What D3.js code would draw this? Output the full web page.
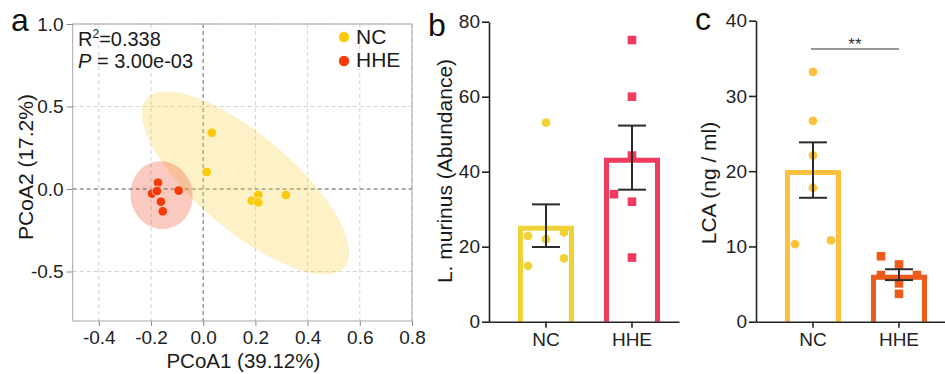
<!DOCTYPE html>
<html><head><meta charset="utf-8">
<script src="https://cdn.jsdelivr.net/npm/d3@7"></script>
<style>
body{margin:0;background:#fff}
text{font-family:"Liberation Sans",Arial,Helvetica,sans-serif}
</style>
</head><body>
<svg id="chart" width="945" height="374"></svg>
<script>
// ---------------- DATA ----------------
// Panel a: PCoA
const pcoaGroups = ["NC", "HHE"];
const ncPC1  = [0.033, 0.013, 0.186, 0.211, 0.211, 0.317];
const ncPC2  = [0.341, 0.103, -0.071, -0.036, -0.081, -0.036];
const hhePC1 = [-0.173, -0.196, -0.177, -0.094, -0.162, -0.155];
const hhePC2 = [0.038, -0.028, -0.012, -0.010, -0.077, -0.135];
const pcoaXTicks = [-0.4, -0.2, 0.0, 0.2, 0.4, 0.6, 0.8];
const pcoaYTicks = [-0.5, 0.0, 0.5, 1.0];
const pcoaStats = ["0.338", "3.00e-03"];
const pcoaAxisTitles = ["PCoA1 (39.12%)", "PCoA2 (17.2%)"];
const F95_2_5 = 5.786; // F quantile (0.95; 2, n-1=5) for the 95% ellipse

// Panel b: L. murinus abundance
const barGroups = ["NC", "HHE"];
const murinusNC  = [53.1, 22.9, 22.0, 23.8, 16.9, 14.9];
const murinusHHE = [75.1, 60.0, 44.3, 34.0, 32.0, 17.1];
const murinusJitterNC  = [0, -1, 0, 1, 1, -1];
const murinusJitterHHE = [0, 0, 0, -1, 0, 0];
const murinusTicks = [0, 20, 40, 60, 80];

// Panel c: LCA
const lcaNC  = [33.2, 26.7, 22.1, 17.8, 10.3, 10.8];
const lcaHHE = [8.7, 7.6, 6.2, 6.2, 5.1, 3.7];
const lcaJitterNC  = [0, 0, 0, 0, -1, 1];
const lcaJitterHHE = [-1, 0, -1, 1, 0, 0];
const lcaTicks = [0, 10, 20, 30, 40];
const lcaSig = "**";

// ---------------- DRAW ----------------
const svg = d3.select("#chart");
const TXT = "#1a1a1a";

// ===== Panel a =====
const ax = d3.scaleLinear().domain([-0.5, 0.8]).range([72.7, 412]);
const ay = d3.scaleLinear().domain([-0.8, 1.0]).range([321, 24]);
const pa = svg.append("g");
const [aL, aR] = ax.range(), [aB, aT] = ay.range();

// grid
pa.selectAll("line.vg").data(pcoaXTicks).join("line")
  .attr("x1", d => ax(d)).attr("x2", d => ax(d)).attr("y1", aT).attr("y2", aB)
  .attr("stroke", d => d === 0 ? "#8c8c8c" : "#d2d2d2")
  .attr("stroke-width", d => d === 0 ? 1.3 : 1)
  .attr("stroke-dasharray", "4,3");
pa.selectAll("line.hg").data(pcoaYTicks).join("line")
  .attr("y1", d => ay(d)).attr("y2", d => ay(d)).attr("x1", aL).attr("x2", aR)
  .attr("stroke", d => d === 0 ? "#8c8c8c" : "#d2d2d2")
  .attr("stroke-width", d => d === 0 ? 1.3 : 1)
  .attr("stroke-dasharray", "4,3");

// ellipses (95% normal confidence ellipse from each group's points)
function ellipsePts(xs, ys) {
  const mx = d3.mean(xs), my = d3.mean(ys), n = xs.length;
  let sxx = 0, syy = 0, sxy = 0;
  for (let i = 0; i < n; i++) {
    const dx = xs[i] - mx, dy = ys[i] - my;
    sxx += dx * dx; syy += dy * dy; sxy += dx * dy;
  }
  sxx /= n - 1; syy /= n - 1; sxy /= n - 1;
  const tr = sxx + syy, det = sxx * syy - sxy * sxy;
  const disc = Math.sqrt(Math.max(0, tr * tr / 4 - det));
  const l1 = tr / 2 + disc, l2 = tr / 2 - disc;
  let ex = sxy, ey = l1 - sxx;
  if (Math.abs(ex) < 1e-12 && Math.abs(ey) < 1e-12) { ex = sxx >= syy ? 1 : 0; ey = sxx >= syy ? 0 : 1; }
  const en = Math.hypot(ex, ey); ex /= en; ey /= en;
  const r = Math.sqrt(2 * F95_2_5);
  const a = r * Math.sqrt(l1), b = r * Math.sqrt(Math.max(0, l2));
  return d3.range(0, 100).map(k => {
    const t = k / 100 * 2 * Math.PI;
    const c = Math.cos(t), s = Math.sin(t);
    return [mx + a * c * ex - b * s * ey, my + a * c * ey + b * s * ex];
  });
}
const eLine = d3.line().x(d => ax(d[0])).y(d => ay(d[1])).curve(d3.curveLinearClosed);
pa.append("path").attr("d", eLine(ellipsePts(ncPC1, ncPC2)))
  .attr("fill", "#F7D24A").attr("fill-opacity", 0.3);
pa.append("path").attr("d", eLine(ellipsePts(hhePC1, hhePC2)))
  .attr("fill", "#EE3A1A").attr("fill-opacity", 0.27);

// frame
pa.append("rect").attr("x", aL).attr("y", aT).attr("width", aR - aL).attr("height", aB - aT)
  .attr("fill", "none").attr("stroke", "#a6a6a6").attr("stroke-width", 1);

// points
const aColor = {NC: "#F9CB0C", HHE: "#F53A0A"};
const ncPts = ncPC1.map((v, i) => ({x: v, y: ncPC2[i], g: "NC"}));
const hhePts = hhePC1.map((v, i) => ({x: v, y: hhePC2[i], g: "HHE"}));
pa.selectAll("circle.pt").data(ncPts.concat(hhePts)).join("circle")
  .attr("cx", d => ax(d.x)).attr("cy", d => ay(d.y)).attr("r", 4.8)
  .attr("fill", d => aColor[d.g]).attr("stroke", "#fff").attr("stroke-width", 0.6);

// axes
const axL = pa.append("g").attr("transform", `translate(${aL},0)`)
  .call(d3.axisLeft(ay).tickValues(pcoaYTicks).tickFormat(d => d.toFixed(1)).tickSize(6).tickSizeOuter(0).tickPadding(3));
const axB = pa.append("g").attr("transform", `translate(0,${aB})`)
  .call(d3.axisBottom(ax).tickValues(pcoaXTicks).tickFormat(d => d.toFixed(1)).tickSize(5).tickSizeOuter(0).tickPadding(5));
[axL, axB].forEach(g => {
  g.select(".domain").remove();
  g.selectAll(".tick line").attr("stroke", "#8c8c8c");
  g.selectAll(".tick text").attr("font-size", 19).attr("fill", "#222")
    .attr("font-family", '"Liberation Sans",Arial,sans-serif');
});

// legend
pcoaGroups.forEach((g, i) => {
  pa.append("circle").attr("cx", 344).attr("cy", 37 + i * 24).attr("r", 5.2).attr("fill", aColor[g]);
  pa.append("text").attr("x", 356).attr("y", 44 + i * 23).attr("font-size", 21).attr("fill", TXT).text(g);
});

// stats
const r2 = pa.append("text").attr("x", 78).attr("y", 46).attr("font-size", 20).attr("fill", TXT);
r2.append("tspan").text("R");
r2.append("tspan").attr("font-size", 12).attr("dy", -8).text("2");
r2.append("tspan").attr("dy", 8).text("=" + pcoaStats[0]);
const pt = pa.append("text").attr("x", 78).attr("y", 68).attr("font-size", 20).attr("fill", TXT);
pt.append("tspan").attr("font-style", "italic").text("P");
pt.append("tspan").text(" = " + pcoaStats[1]);

// axis titles
pa.append("text").attr("x", (aL + aR) / 2 + 1).attr("y", 367.5).attr("text-anchor", "middle")
  .attr("font-size", 20.5).attr("fill", TXT).text(pcoaAxisTitles[0]);
pa.append("text").attr("transform", `translate(33,167) rotate(-90)`).attr("text-anchor", "middle")
  .attr("font-size", 21).attr("fill", TXT).text(pcoaAxisTitles[1]);
pa.append("text").attr("x", 11).attr("y", 31).attr("font-size", 32).attr("fill", "#111").text("a");

// ===== Bar panels =====
function barPanel(o) {
  const g = svg.append("g");
  const x = d3.scaleBand().domain(barGroups).range([o.x0, o.x0 + 190])
    .paddingInner(0.407).paddingOuter(0.308).align(0.594);
  const y = d3.scaleLinear().domain([0, o.ymax]).range([321.7, o.ytop]);
  const bw = x.bandwidth();
  const SW = 5;
  barGroups.forEach((grp, i) => {
    const vals = o.values[i], jit = o.jitter[i];
    const m = d3.mean(vals), se = d3.deviation(vals) / Math.sqrt(vals.length);
    const x0 = x(grp), x1 = x0 + bw, cx = x0 + bw / 2;
    const top = y(m) + SW / 2; // stroke drawn inside the bar top
    // open-bottom bar outline
    g.append("path")
      .attr("d", `M${x0},${y(0)}L${x0},${top}L${x1},${top}L${x1},${y(0)}`)
      .attr("fill", "none").attr("stroke", o.colors[i]).attr("stroke-width", SW)
      .attr("stroke-linejoin", "miter");
    // points
    const pts = vals.map((v, k) => ({v, j: jit[k]}));
    if (i === 0) {
      g.selectAll(null).data(pts).join("circle")
        .attr("cx", d => cx + d.j * 18).attr("cy", d => y(d.v)).attr("r", 4.4)
        .attr("fill", o.colors[i]);
    } else {
      g.selectAll(null).data(pts).join("rect")
        .attr("x", d => cx + d.j * 18 - 4.3).attr("y", d => y(d.v) - 4.3)
        .attr("width", 8.6).attr("height", 8.6).attr("fill", o.colors[i]);
    }
    // error bar (mean ± SEM)
    const eb = g.append("g").attr("stroke", "#2b2b2b").attr("stroke-width", 2);
    eb.append("line").attr("x1", cx).attr("x2", cx).attr("y1", y(m - se)).attr("y2", y(m + se));
    eb.append("line").attr("x1", cx - 14).attr("x2", cx + 14).attr("y1", y(m - se)).attr("y2", y(m - se));
    eb.append("line").attr("x1", cx - 14).attr("x2", cx + 14).attr("y1", y(m + se)).attr("y2", y(m + se));
  });
  const yAx = g.append("g").attr("transform", `translate(${o.x0},0)`)
    .call(d3.axisLeft(y).tickValues(o.ticks).tickSize(7).tickSizeOuter(0).tickPadding(2));
  const xAx = g.append("g").attr("transform", `translate(0,${y(0)})`)
    .call(d3.axisBottom(x).tickSize(6).tickSizeOuter(0).tickPadding(5));
  [yAx, xAx].forEach(a => {
    a.select(".domain").attr("stroke", "#222").attr("stroke-width", 1.6);
    a.selectAll(".tick line").attr("stroke", "#222").attr("stroke-width", 1.6);
    a.selectAll(".tick text").attr("font-size", 19).attr("fill", "#222")
      .attr("font-family", '"Liberation Sans",Arial,sans-serif');
  });
  g.append("text").attr("transform", `translate(${o.titleX},${o.titleY}) rotate(-90)`)
    .attr("text-anchor", "middle").attr("font-size", 21).attr("fill", TXT).text(o.title);
  g.append("text").attr("x", o.letterX).attr("y", o.letterY).attr("font-size", 32).attr("fill", "#111").text(o.letter);
  return {g, x, y};
}

barPanel({
  x0: 489, ymax: 80, ytop: 21.7, values: [murinusNC, murinusHHE],
  jitter: [murinusJitterNC, murinusJitterHHE], ticks: murinusTicks,
  colors: ["#EFD236", "#F03A5F"], title: "L. murinus (Abundance)",
  titleX: 452, titleY: 171, letter: "b", letterX: 428, letterY: 36
});

const pc = barPanel({
  x0: 756, ymax: 40, ytop: 20.7, values: [lcaNC, lcaHHE],
  jitter: [lcaJitterNC, lcaJitterHHE], ticks: lcaTicks,
  colors: ["#FDC140", "#EC5B1C"], title: "LCA (ng / ml)",
  titleX: 716, titleY: 183, letter: "c", letterX: 695, letterY: 30
});
// significance bracket
{
  const x = pc.x, bw = x.bandwidth();
  const xa = x("NC") + bw / 2 - 2, xb = x("HHE") + bw / 2;
  pc.g.append("line").attr("x1", xa).attr("x2", xb).attr("y1", 49).attr("y2", 49)
    .attr("stroke", "#777").attr("stroke-width", 1.5);
  pc.g.append("text").attr("x", (xa + xb) / 2).attr("y", 50).attr("text-anchor", "middle")
    .attr("font-size", 17).attr("fill", "#333").text(lcaSig);
}
</script>
</body></html>
